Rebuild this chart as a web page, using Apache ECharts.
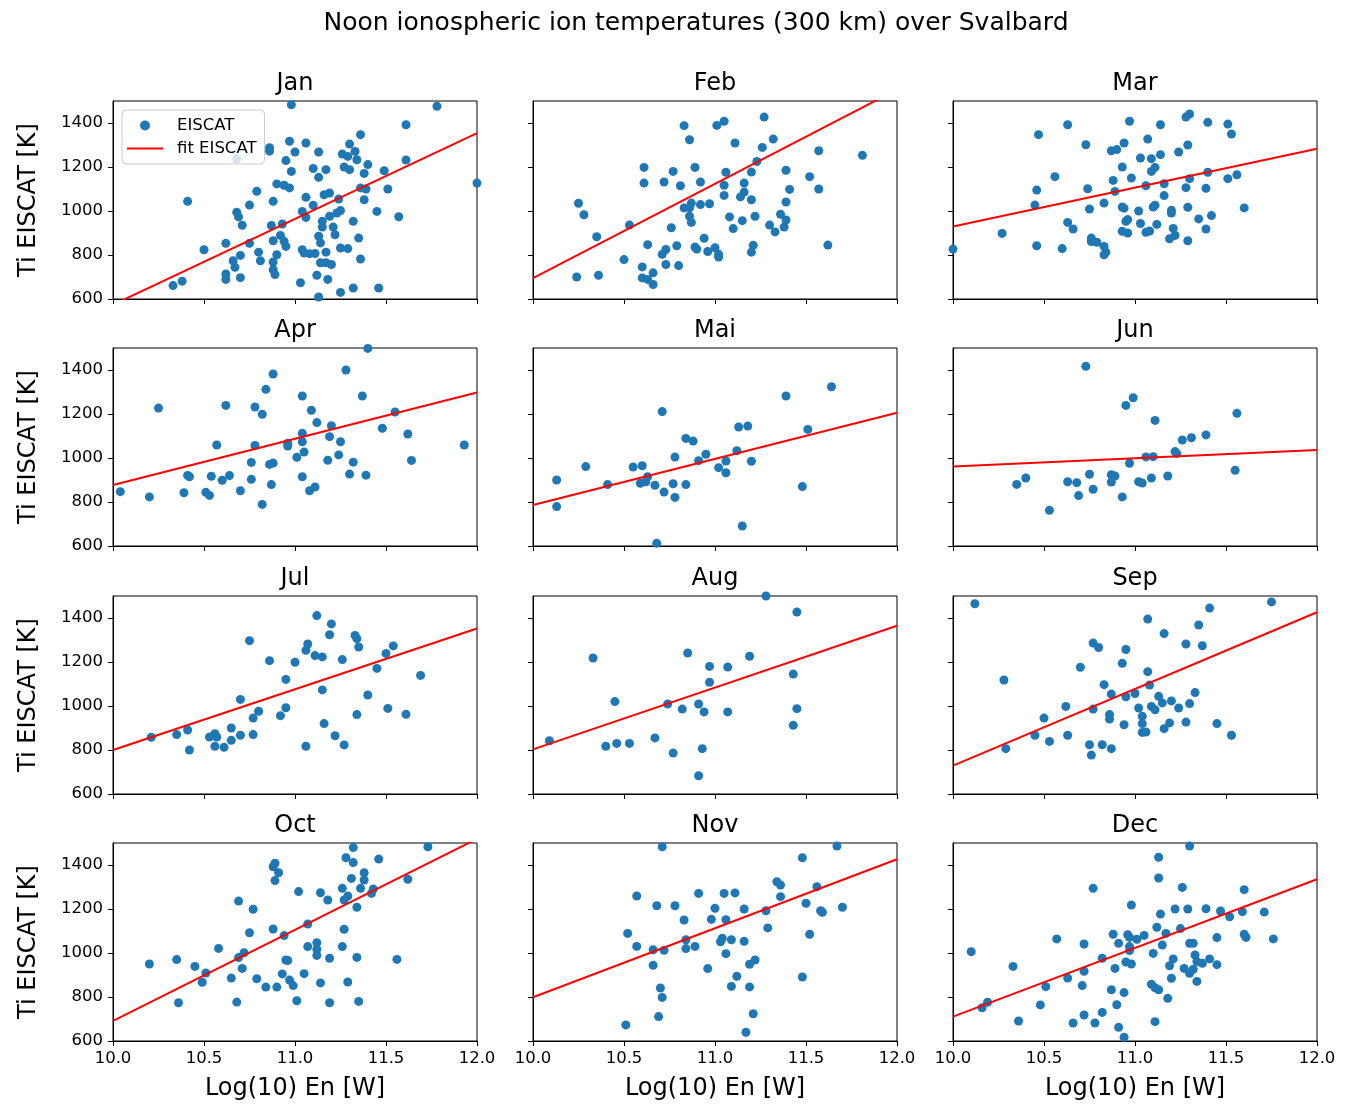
<!DOCTYPE html>
<html>
<head>
<meta charset="utf-8">
<script src="https://cdn.jsdelivr.net/npm/echarts@6/dist/echarts.min.js"></script>
<style>
html, body { margin: 0; padding: 0; background: #fff; }
#chart { width: 1362px; height: 1106px; }
</style>
</head>
<body>
<div id="chart"></div>
<script>
// month names, one per panel
const months = ['Jan', 'Feb', 'Mar', 'Apr', 'Mai', 'Jun', 'Jul', 'Aug', 'Sep', 'Oct', 'Nov', 'Dec']

// [log10 En, Ti] per month
const janPts = [[10.98,1483],[11.78,1476],[11.61,1392],[11.36,1347],[10.97,1317],[11.06,1309],[10.86,1288],[10.86,1272],[10.68,1236],[11.00,1268],[11.13,1268],[11.26,1259],[11.30,1304],[11.33,1271],[11.29,1248],[11.34,1233],[10.95,1229],[11.61,1232],[11.40,1211],[11.27,1200],[11.30,1188],[11.10,1193],[11.17,1188],[10.98,1180],[11.13,1153],[11.38,1171],[11.49,1183],[12.00,1127],[10.90,1123],[10.94,1117],[10.97,1105],[10.79,1090],[11.36,1105],[11.39,1100],[11.51,1100],[11.16,1074],[11.19,1082],[11.06,1062],[11.24,1054],[11.38,1051],[10.41,1044],[10.88,1044],[10.75,1027],[11.10,1026],[11.04,998],[10.68,994],[10.69,973],[10.71,935],[11.06,971],[11.25,1002],[11.23,991],[11.19,976],[11.15,953],[11.15,927],[11.45,998],[11.57,974],[11.32,953],[10.93,941],[10.87,934],[11.21,927],[11.22,892],[10.92,889],[10.88,865],[10.94,862],[11.13,885],[11.14,855],[11.35,877],[10.75,853],[10.62,853],[10.50,824],[10.95,839],[11.04,824],[11.05,809],[11.08,806],[11.11,807],[11.17,813],[11.25,832],[11.29,829],[10.80,813],[10.90,801],[10.70,798],[10.66,774],[10.81,774],[10.67,744],[10.88,768],[10.88,733],[10.89,711],[11.14,765],[11.17,765],[11.20,757],[11.36,782],[10.62,714],[10.62,689],[10.70,697],[11.12,708],[11.18,689],[11.03,674],[10.38,681],[10.33,661],[11.32,650],[11.46,650],[11.25,630],[11.13,609],[11.20,592]]
const febPts = [[10.66,1504],[11.27,1427],[11.05,1408],[11.01,1389],[10.83,1388],[10.86,1324],[11.11,1309],[11.32,1327],[11.26,1289],[11.57,1274],[11.81,1253],[11.23,1225],[10.61,1198],[10.89,1198],[10.77,1180],[11.06,1176],[11.20,1177],[11.39,1185],[11.52,1156],[10.61,1127],[10.72,1132],[10.92,1132],[10.81,1115],[11.05,1117],[11.16,1127],[11.16,1086],[11.14,1064],[11.57,1100],[11.41,1098],[11.05,1071],[11.20,1051],[11.39,1041],[10.25,1035],[10.28,983],[10.87,1036],[10.83,1014],[10.86,1014],[10.92,1029],[10.97,1033],[10.86,976],[10.87,948],[11.08,973],[11.22,976],[11.36,985],[11.15,956],[10.53,936],[11.30,936],[11.33,905],[11.38,927],[11.39,959],[11.10,920],[10.76,924],[10.35,883],[10.94,876],[10.79,842],[10.63,847],[10.89,836],[10.90,827],[10.96,816],[11.00,833],[11.02,803],[11.02,791],[11.21,844],[11.20,813],[10.73,825],[10.71,803],[11.62,845],[10.50,779],[10.73,757],[10.80,752],[10.60,746],[10.66,719],[10.60,696],[10.63,689],[10.66,666],[10.24,700],[10.36,708]]
const marPts = [[11.30,1441],[11.28,1427],[10.97,1408],[11.40,1403],[11.51,1395],[10.63,1392],[11.14,1392],[11.53,1350],[10.47,1347],[11.07,1327],[10.94,1309],[10.73,1301],[11.29,1300],[10.87,1274],[10.90,1279],[11.24,1268],[11.14,1256],[11.03,1241],[11.09,1238],[10.93,1200],[11.11,1198],[11.09,1180],[10.56,1156],[10.98,1150],[10.88,1139],[11.30,1147],[11.40,1176],[11.51,1147],[11.56,1165],[11.06,1115],[11.16,1124],[11.28,1106],[11.39,1103],[10.46,1095],[10.74,1101],[10.89,1089],[11.16,1070],[10.45,1027],[10.83,1036],[10.75,1009],[10.93,1018],[10.94,1013],[11.02,1000],[11.10,1018],[11.11,1026],[11.20,1003],[11.20,991],[11.29,1017],[11.60,1014],[10.63,948],[10.95,953],[10.96,961],[11.03,943],[11.12,939],[11.35,964],[11.42,979],[10.27,898],[10.66,918],[10.93,908],[10.96,900],[11.06,903],[11.08,909],[11.21,921],[11.22,889],[11.19,874],[11.39,918],[11.29,865],[10.76,877],[10.76,861],[10.79,858],[10.83,839],[10.84,813],[10.83,801],[10.46,842],[10.60,829],[10.00,827]]
const aprPts = [[11.40,1498],[10.88,1382],[11.28,1400],[10.84,1312],[11.04,1282],[11.37,1282],[10.25,1227],[10.62,1239],[10.78,1232],[10.82,1199],[11.09,1217],[11.55,1209],[11.12,1161],[11.20,1147],[11.48,1135],[11.62,1109],[11.04,1112],[11.04,1074],[11.19,1097],[11.25,1074],[10.96,1067],[10.96,1054],[10.78,1057],[10.57,1059],[11.93,1059],[11.05,1027],[11.01,1003],[11.24,1014],[11.18,990],[11.32,981],[11.64,989],[10.76,980],[10.86,971],[10.88,977],[10.41,921],[10.42,915],[10.54,917],[10.64,920],[10.60,899],[10.76,903],[11.04,915],[11.30,927],[11.39,922],[10.87,879],[10.70,851],[11.08,851],[11.11,868],[10.04,847],[10.20,823],[10.39,842],[10.51,844],[10.53,830],[10.82,789]]
const maiPts = [[11.64,1324],[11.39,1282],[10.71,1211],[11.13,1141],[11.18,1145],[11.51,1130],[10.84,1089],[10.88,1077],[10.78,1004],[10.95,1017],[11.12,1033],[10.91,988],[11.06,986],[11.20,985],[11.02,956],[11.06,933],[10.29,961],[10.55,959],[10.60,965],[10.63,915],[10.59,885],[10.62,892],[10.13,900],[10.41,879],[10.67,876],[10.77,883],[10.84,879],[10.72,845],[10.78,821],[11.48,870],[10.13,779],[11.15,691],[10.68,612]]
const junPts = [[10.73,1417],[10.99,1274],[10.95,1239],[11.56,1203],[11.11,1171],[11.39,1105],[11.31,1092],[11.26,1082],[11.22,1029],[11.23,1020],[11.06,1005],[11.10,1006],[10.97,976],[11.55,944],[10.75,926],[10.87,924],[10.89,918],[10.87,891],[11.18,918],[11.09,909],[11.02,892],[11.04,886],[10.40,909],[10.35,880],[10.63,892],[10.68,888],[10.77,858],[10.69,829],[10.93,823],[10.53,762]]
const julPts = [[11.12,1411],[11.20,1373],[11.19,1324],[11.33,1321],[11.34,1306],[11.35,1268],[10.75,1297],[11.07,1282],[11.06,1253],[11.11,1229],[11.15,1223],[11.54,1273],[11.50,1239],[10.86,1206],[11.00,1199],[11.26,1211],[11.45,1171],[11.69,1139],[10.95,1121],[11.15,1073],[11.40,1050],[10.70,1030],[10.95,992],[11.51,989],[10.80,976],[10.77,945],[10.92,956],[11.34,961],[11.61,962],[11.16,920],[11.22,865],[11.27,823],[11.06,817],[10.21,858],[10.35,870],[10.41,891],[10.42,800],[10.53,859],[10.56,874],[10.57,859],[10.65,900],[10.65,844],[10.70,867],[10.77,870],[10.56,817],[10.61,812]]
const augPts = [[11.28,1500],[11.45,1427],[10.33,1218],[10.85,1241],[11.19,1226],[10.97,1180],[11.07,1177],[11.43,1145],[10.97,1108],[10.45,1020],[10.74,1009],[10.91,1009],[10.82,986],[10.94,973],[11.07,973],[11.45,988],[11.43,912],[10.09,842],[10.40,817],[10.46,830],[10.53,830],[10.67,855],[10.77,786],[10.93,806],[10.91,683]]
const sepPts = [[10.12,1465],[11.46,1504],[11.75,1473],[11.41,1445],[11.07,1395],[11.35,1368],[11.16,1329],[10.77,1286],[10.80,1266],[11.28,1282],[11.37,1274],[10.95,1257],[10.93,1194],[10.70,1176],[11.07,1156],[10.28,1118],[10.83,1097],[11.08,1095],[10.87,1054],[11.00,1057],[10.95,1042],[11.33,1061],[11.13,1044],[11.15,1014],[11.20,1023],[11.30,1011],[11.24,991],[10.62,998],[10.77,986],[11.02,991],[11.09,998],[11.11,983],[10.86,961],[10.86,941],[11.04,953],[11.04,920],[11.04,880],[11.06,882],[11.19,923],[11.28,927],[11.45,920],[11.53,867],[11.16,897],[10.94,915],[10.50,945],[10.45,867],[10.53,839],[10.63,867],[10.29,806],[10.75,824],[10.82,824],[10.87,806],[10.76,777]]
const octPts = [[11.32,1479],[11.73,1483],[11.28,1433],[11.32,1411],[11.46,1427],[10.88,1392],[10.89,1408],[10.91,1365],[10.89,1329],[11.38,1365],[11.38,1332],[11.31,1339],[11.62,1335],[11.26,1294],[11.36,1294],[11.43,1291],[11.42,1271],[11.02,1279],[11.14,1274],[11.29,1259],[11.27,1241],[11.18,1241],[10.69,1236],[10.77,1199],[11.34,1208],[11.07,1132],[10.88,1109],[11.27,1108],[10.75,1092],[10.94,1079],[10.58,1021],[11.07,1029],[11.12,1047],[11.12,1017],[11.12,989],[11.26,1029],[10.72,1001],[10.69,979],[10.95,968],[10.96,966],[11.19,976],[11.34,980],[11.56,971],[10.20,950],[10.35,970],[10.45,939],[10.51,909],[10.49,867],[10.71,930],[10.93,905],[10.97,877],[10.99,852],[11.05,906],[10.65,886],[10.79,883],[10.84,845],[10.90,845],[11.14,864],[11.29,868],[10.36,774],[10.68,777],[11.01,783],[11.19,774],[11.35,780]]
const novPts = [[10.71,1483],[11.67,1486],[11.48,1433],[11.34,1324],[11.36,1309],[11.56,1301],[10.57,1259],[10.91,1271],[11.05,1271],[11.11,1273],[11.36,1256],[10.68,1215],[10.78,1215],[11.50,1226],[11.70,1208],[11.00,1203],[11.16,1200],[11.28,1192],[11.58,1192],[11.59,1185],[10.83,1150],[10.98,1153],[11.06,1151],[11.29,1114],[10.52,1089],[11.52,1085],[10.84,1060],[11.04,1067],[11.03,1051],[11.09,1060],[11.16,1053],[10.57,1030],[10.66,1015],[10.72,1012],[10.84,1020],[10.89,1030],[11.06,997],[11.22,968],[11.19,949],[10.66,944],[10.96,929],[11.12,894],[11.48,891],[11.09,848],[11.19,846],[10.70,841],[10.71,798],[11.21,724],[10.69,711],[10.51,673],[11.17,640]]
const decPts = [[11.30,1486],[11.13,1435],[11.13,1341],[10.77,1294],[11.26,1298],[11.60,1288],[10.98,1218],[11.22,1200],[11.29,1200],[11.39,1201],[11.47,1191],[11.59,1188],[11.71,1186],[11.52,1165],[11.14,1177],[11.12,1117],[11.25,1111],[11.17,1089],[11.05,1080],[10.88,1085],[10.96,1083],[10.97,1071],[11.01,1062],[11.60,1085],[11.61,1071],[11.45,1070],[11.76,1064],[10.57,1064],[10.91,1044],[10.72,1041],[11.15,1036],[11.30,1044],[11.32,1044],[10.97,1029],[10.97,1011],[10.10,1006],[11.10,998],[11.33,991],[10.82,976],[11.21,973],[11.41,973],[10.95,959],[10.98,950],[11.34,961],[11.37,953],[11.45,947],[11.19,942],[10.33,939],[10.89,930],[11.27,930],[11.32,926],[11.30,908],[10.72,917],[10.63,886],[11.20,885],[11.34,871],[10.51,847],[10.71,852],[11.09,858],[11.11,842],[11.13,833],[10.87,833],[10.94,820],[11.18,794],[10.19,776],[10.16,751],[10.48,764],[10.90,765],[10.82,730],[10.72,718],[10.36,691],[10.66,682],[10.78,682],[11.11,688],[10.91,662],[10.94,617]]

const allPts = [janPts, febPts, marPts, aprPts, maiPts, junPts, julPts, augPts, sepPts, octPts, novPts, decPts]

// fitted line, value at x=10 and at x=12
const fitAt10 = [574, 695, 930, 877, 786, 961, 800, 803, 729, 691, 799, 711]
const fitAt12 = [1354, 1552, 1283, 1298, 1206, 1036, 1352, 1365, 1426, 1519, 1426, 1335]

const xTicks = [10, 10.5, 11, 11.5, 12]
const yTicks = [600, 800, 1000, 1200, 1400]

const font = 'DejaVu Sans'
const colLeft = [113, 533, 953]
const rowTop = [101, 348, 596, 843]
const pw = 364
const ph = 198

const grids = []
const xAxes = []
const yAxes = []
const titles = []
const series = []

titles.push({
	text: 'Noon ionospheric ion temperatures (300 km) over Svalbard',
	left: 696,
	top: 11,
	textAlign: 'center',
	padding: 0,
	textStyle: { fontFamily: font, fontSize: 25, fontWeight: 'normal', color: '#000' }
})

months.forEach((m, i) => {
	const row = Math.floor(i / 3)
	const col = i % 3
	grids.push({
		left: colLeft[col], top: rowTop[row], width: pw, height: ph,
		show: true, borderColor: '#000', borderWidth: 1, backgroundColor: 'transparent'
	})
	xAxes.push({
		gridIndex: i,
		type: 'value',
		min: 10,
		max: 12,
		axisLine: { show: true, lineStyle: { color: '#000', width: 1 } },
		axisTick: { show: true, length: 5, customValues: xTicks, lineStyle: { color: '#000' } },
		axisLabel: {
			show: row === 3, customValues: xTicks, margin: 9,
			formatter: v => v.toFixed(1),
			fontFamily: font, fontSize: 16.5, color: '#000'
		},
		splitLine: { show: false },
		name: row === 3 ? 'Log(10) En [W]' : '',
		nameLocation: 'middle',
		nameGap: 36,
		nameTextStyle: { fontFamily: font, fontSize: 24, color: '#000' }
	})
	yAxes.push({
		gridIndex: i,
		type: 'value',
		min: 600,
		max: 1500,
		axisLine: { show: true, lineStyle: { color: '#000', width: 1 } },
		axisTick: { show: true, length: 5, customValues: yTicks, lineStyle: { color: '#000' } },
		axisLabel: {
			show: col === 0, customValues: yTicks, margin: 10,
			formatter: v => String(v),
			fontFamily: font, fontSize: 16.5, color: '#000'
		},
		splitLine: { show: false },
		name: col === 0 ? 'Ti EISCAT [K]' : '',
		nameLocation: 'middle',
		nameGap: 72,
		nameTextStyle: { fontFamily: font, fontSize: 24, color: '#000' }
	})
	titles.push({
		text: m,
		left: colLeft[col] + pw / 2,
		top: rowTop[row] - 29,
		textAlign: 'center',
		padding: 0,
		textStyle: { fontFamily: font, fontSize: 24, fontWeight: 'normal', color: '#000' }
	})
	series.push({
		type: 'scatter',
		name: 'EISCAT',
		xAxisIndex: i,
		yAxisIndex: i,
		data: allPts[i],
		symbolSize: 9,
		clip: true,
		silent: true,
		itemStyle: { color: '#1f77b4', opacity: 1 },
		z: 2
	})
	series.push({
		type: 'line',
		name: 'fit EISCAT',
		xAxisIndex: i,
		yAxisIndex: i,
		data: [[10, fitAt10[i]], [12, fitAt12[i]]],
		symbol: 'none',
		clip: true,
		silent: true,
		lineStyle: { color: '#ff0000', width: 2 },
		itemStyle: { color: '#ff0000' },
		z: 3
	})
})

const chart = echarts.init(document.getElementById('chart'))
chart.setOption({
	animation: false,
	backgroundColor: '#fff',
	title: titles,
	legend: {
		left: 122,
		top: 110,
		orient: 'vertical',
		selectedMode: false,
		data: [
			{ name: 'EISCAT', icon: 'circle' },
			{ name: 'fit EISCAT', icon: 'path://M0,0L36,0L36,2L0,2Z', itemStyle: { color: '#ff0000' } }
		],
		itemWidth: 36,
		itemHeight: 10,
		itemGap: 6,
		padding: [7, 8, 7, 5],
		backgroundColor: 'rgba(255,255,255,0.8)',
		borderColor: '#cccccc',
		borderWidth: 1,
		borderRadius: 4,
		textStyle: { fontFamily: font, fontSize: 16.5, color: '#000', padding: [0, 0, 0, 9] }
	},
	grid: grids,
	xAxis: xAxes,
	yAxis: yAxes,
	series: series
})
</script>
</body>
</html>
